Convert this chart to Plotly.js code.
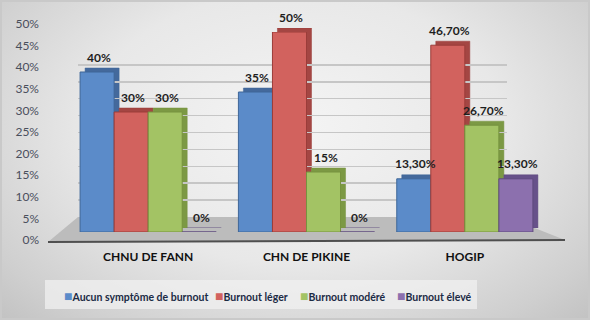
<!DOCTYPE html>
<html>
<head>
<meta charset="utf-8">
<script src="https://cdn.plot.ly/plotly-3.0.1.min.js"></script>
<style>
  html, body { margin: 0; padding: 0; background: #ffffff; }
  #chart {
    width: 590px; height: 320px;
    box-shadow: inset 0 0 0 2px #c9c9c9;
    background: radial-gradient(ellipse at 50% 40%, #f4f4f4 0%, #e8e8e8 50%, #cfcfcf 85%, #c2c2c2 100%);
  }
</style>
</head>
<body>
<div id="chart"></div>
<script>
// ---- data ----
const categories = ['CHNU DE FANN', 'CHN DE PIKINE', 'HOGIP'];
const seriesNames = ['Aucun symptôme de burnout', 'Burnout léger', 'Burnout modéré', 'Burnout élevé'];
const aucun  = [0.40, 0.35, 0.133];
const leger  = [0.30, 0.50, 0.467];
const modere = [0.30, 0.15, 0.267];
const eleve  = [0.00, 0.00, 0.133];
const yTicks = [0, 0.05, 0.10, 0.15, 0.20, 0.25, 0.30, 0.35, 0.40, 0.45, 0.50];
const gridTicks = [0.05, 0.10, 0.15, 0.20, 0.25, 0.30, 0.35, 0.40, 0.45, 0.50];

// ---- styles ----
const seriesValues = [aucun, leger, modere, eleve];
const faceColors  = ['#5b8bc9', '#d2625e', '#a3c364', '#8c70ae'];
const edgeColors  = ['#3f6798', '#9b3c39', '#76923f', '#5f4a7e'];
const depthColors = ['#44699c', '#a44643', '#7c9944', '#67518a'];
const legendSquareX = [62, 213, 298, 395];
const FONT = 'Lato, "Liberation Sans", Arial, sans-serif';

function fmt(v) {
  const p = v * 100;
  if (Math.abs(p - Math.round(p)) < 1e-6) return Math.round(p) + '%';
  return p.toFixed(2).replace('.', ',') + '%';
}

const W = 590, H = 320;
const L = 48, R = 25, T = 24, B = 78;
const pw = W - L - R, ph = H - T - B;
const px = x => (x - L) / pw;
const py = y => (H - B - y) / ph;

const bargap = 0.14;
const nS = seriesValues.length;
const bw = (1 - bargap) / nS;
const DX = 5, DY = 4; // depth offset in px

// depth (back faces) – drawn first
const traces = seriesValues.map((vals, i) => ({
  type: 'bar', name: seriesNames[i] + ' (profondeur)',
  x: categories, y: vals, xaxis: 'x', yaxis: 'y3',
  showlegend: false,
  marker: { color: depthColors[i], line: { color: edgeColors[i], width: 0.5 } },
  hoverinfo: 'skip'
}));
// front faces
seriesValues.forEach((vals, i) => traces.push({
  type: 'bar', name: seriesNames[i],
  x: categories, y: vals, xaxis: 'x4', yaxis: 'y4',
  showlegend: false,
  marker: { color: faceColors[i], line: { color: edgeColors[i], width: 1 } },
  hoverinfo: 'skip'
}));
traces.push({ type: 'scatter', x: [], y: [], xaxis: 'x', yaxis: 'y', showlegend: false, hoverinfo: 'skip' });
traces.push({ type: 'scatter', x: [], y: [], xaxis: 'x2', yaxis: 'y2', showlegend: false, hoverinfo: 'skip' });

const annotations = [];
seriesValues.forEach((vals, i) => {
  const off = -(1 - bargap) / 2 + bw * (i + 0.5);
  vals.forEach((v, j) => {
    annotations.push({
      x: j + off, y: v, xref: 'x4', yref: 'y4',
      text: fmt(v), showarrow: false, yshift: 15, xshift: 2,
      font: { family: FONT, size: 12, color: '#1e1e1e', weight: 700 }
    });
  });
});
// legend entries
seriesNames.forEach((name, i) => {
  annotations.push({
    xref: 'paper', yref: 'paper', x: px(legendSquareX[i]), y: py(295),
    xanchor: 'left', yanchor: 'middle', showarrow: false,
    text: `<span style="color:${faceColors[i]};font-size:14px">■</span>${name}`,
    font: { family: FONT, size: 10.5, color: '#1b2a44', weight: 700 }
  });
});

const layout = {
  width: W, height: H,
  margin: { l: L, r: R, t: T, b: B, pad: 0, autoexpand: false },
  paper_bgcolor: 'rgba(0,0,0,0)',
  plot_bgcolor: 'rgba(0,0,0,0)',
  font: { family: FONT, size: 12, color: '#404040' },
  barmode: 'group', bargap: bargap, bargroupgap: 0,
  showlegend: false,
  xaxis: {
    type: 'category', domain: [px(69 + DX), px(544 + DX)], range: [-0.5, 2.5],
    anchor: 'y3', showticklabels: false,
    showgrid: false, zeroline: false, showline: false, ticks: '',
    fixedrange: true
  },
  yaxis3: {
    domain: [py(232 - DY), py(32 - DY)], range: [0, 0.5], anchor: 'x',
    showgrid: false, zeroline: false, showline: false, showticklabels: false, ticks: '',
    fixedrange: true
  },
  xaxis4: {
    type: 'category', domain: [px(69), px(544)], range: [-0.5, 2.5],
    anchor: 'free', position: 0,
    showgrid: false, zeroline: false, showline: false, ticks: '',
    ticklabelstandoff: 6,
    tickfont: { family: FONT, size: 12, color: '#111111', weight: 700 },
    fixedrange: true
  },
  yaxis4: {
    domain: [py(232), py(32)], range: [0, 0.5], anchor: 'x4',
    showgrid: false, zeroline: false, showline: false, showticklabels: false, ticks: '',
    fixedrange: true
  },
  yaxis: {
    domain: [py(240), py(24)], range: [0, 0.5],
    anchor: 'free', position: 0,
    tickmode: 'array', tickvals: yTicks, tickformat: '.0%',
    showgrid: false, zeroline: false, showline: false, ticks: '',
    ticklabelstandoff: 9,
    tickfont: { family: FONT, size: 12, color: '#4a4f5c' },
    fixedrange: true
  },
  xaxis2: {
    domain: [px(78), px(507)], range: [0, 1], anchor: 'y2',
    showgrid: false, zeroline: false, showline: false, showticklabels: false, ticks: '',
    fixedrange: true
  },
  yaxis2: {
    domain: [py(217), py(48)], range: [0, 0.5], anchor: 'x2',
    tickmode: 'array', tickvals: gridTicks,
    showgrid: true, gridcolor: '#c6c6c6', gridwidth: 1.5,
    zeroline: false, showline: false, showticklabels: false, ticks: '',
    fixedrange: true
  },
  shapes: [
    { type: 'path', xref: 'paper', yref: 'paper', layer: 'below',
      path: `M ${px(48)} ${py(242)} L ${px(565)} ${py(240)} L ${px(507)} ${py(217)} L ${px(78)} ${py(217)} Z`,
      fillcolor: '#bcbcbc', line: { width: 0 } },
    { type: 'line', xref: 'paper', yref: 'paper', layer: 'below',
      x0: px(48), y0: py(242), x1: px(565), y1: py(240),
      line: { color: '#4f4f4f', width: 2 } },
    { type: 'rect', xref: 'paper', yref: 'paper', layer: 'below',
      x0: px(45), x1: px(477), y0: py(309), y1: py(280),
      fillcolor: 'rgba(240,240,240,0.75)', line: { width: 0 } }
  ],
  annotations: annotations
};

Plotly.newPlot('chart', traces, layout, { staticPlot: true, displayModeBar: false });
</script>
</body>
</html>
